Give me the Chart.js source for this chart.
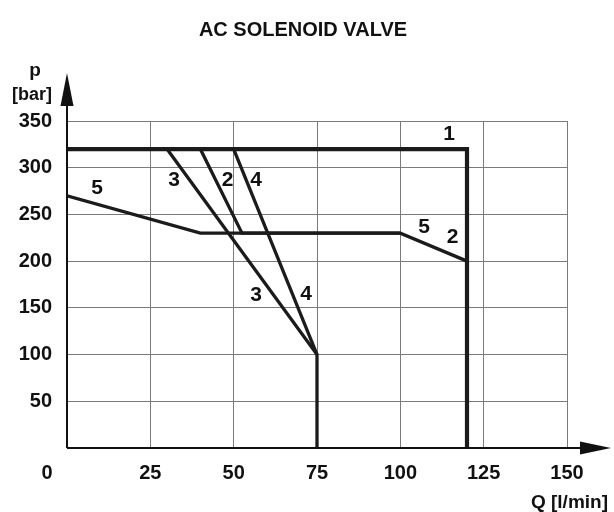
<!DOCTYPE html>
<html>
<head>
<meta charset="utf-8">
<script src="https://cdn.jsdelivr.net/npm/chart.js@4.4.1/dist/chart.umd.min.js"></script>
<style>
html,body{margin:0;padding:0;background:#fff;}
#wrap{width:614px;height:512px;position:relative;}
</style>
</head>
<body>
<div id="wrap"><canvas id="c" width="614" height="512"></canvas></div>
<script>
const xTicks = [0, 25, 50, 75, 100, 125, 150];
const yTicks = [0, 50, 100, 150, 200, 250, 300, 350];
const curve1 = [[0,320],[120,320],[120,0]];
const curve2 = [[40,320],[52.5,230],[100,230],[120,200]];
const curve3 = [[30,320],[75,100],[75,0]];
const curve4 = [[50,320],[75,100]];
const curve5 = [[0,270],[40,230],[100,230]];
const curveLabels = [
  ['1',114.6,335.4],['2',115.7,225.5],['5',107.1,236.8],
  ['3',32.1,286.6],['2',48.2,286.6],['4',56.7,286.6],['5',9,278.6],
  ['3',56.7,164],['4',71.7,165]
];
const title = 'AC SOLENOID VALVE';
const xTitle = 'Q [l/min]';
const yTitle = ['p','[bar]'];

const FONT = '"Liberation Sans", Arial, sans-serif';
const toPts = a => a.map(p => ({x:p[0], y:p[1]}));
const ds = (arr, w) => ({data: toPts(arr), showLine:true, borderColor:'#1b1b1b', borderWidth:w, pointRadius:0, fill:false, tension:0, borderJoinStyle:'miter', borderCapStyle:'butt'});

const deco = {
  id:'deco',
  afterDraw(chart){
    const ctx = chart.ctx, xs = chart.scales.x, ys = chart.scales.y;
    const x0 = xs.getPixelForValue(0), y0 = ys.getPixelForValue(0);
    ctx.save();
    ctx.fillStyle = '#111'; ctx.strokeStyle = '#111';
    // axes with arrows
    ctx.lineWidth = 2;
    ctx.beginPath(); ctx.moveTo(x0, y0); ctx.lineTo(582, y0); ctx.stroke();
    ctx.beginPath(); ctx.moveTo(x0, y0); ctx.lineTo(x0, 104); ctx.stroke();
    ctx.beginPath(); ctx.moveTo(580, y0-6.5); ctx.lineTo(611, y0); ctx.lineTo(580, y0+6.5); ctx.closePath(); ctx.fill();
    ctx.beginPath(); ctx.moveTo(x0-6.5, 106); ctx.lineTo(x0, 73); ctx.lineTo(x0+6.5, 106); ctx.closePath(); ctx.fill();
    // curve labels
    ctx.font = 'bold 21px ' + FONT;
    ctx.textAlign = 'center'; ctx.textBaseline = 'middle';
    curveLabels.forEach(l => ctx.fillText(l[0], xs.getPixelForValue(l[1]), ys.getPixelForValue(l[2])));
    // origin label
    ctx.font = 'bold 20px ' + FONT;
    ctx.fillText('0', 47, 473);
    // titles
    ctx.font = 'bold 20px ' + FONT;
    ctx.fillText(title, 303, 30);
    ctx.font = 'bold 19px ' + FONT;
    ctx.textAlign = 'right';
    ctx.fillText(xTitle, 608, 503);
    ctx.textAlign = 'center';
    ctx.fillText(yTitle[0], 35, 71);
    ctx.font = 'bold 18px ' + FONT;
    ctx.fillText(yTitle[1], 32, 95);
    ctx.restore();
  }
};

new Chart(document.getElementById('c'), {
  type:'scatter',
  data:{datasets:[ds(curve1,4.2), ds(curve2,3.3), ds(curve3,3.3), ds(curve4,3.3), ds(curve5,3.3)]},
  options:{
    responsive:false, animation:false,
    layout:{padding:{left:0, top:121, right:47, bottom:24}},
    plugins:{legend:{display:false}, tooltip:{enabled:false}, title:{display:false}},
    scales:{
      x:{type:'linear', min:0, max:150,
        afterFit(s){ s.height = 40; },
        afterBuildTicks(s){ s.ticks = xTicks.map(v => ({value:v})); },
        ticks:{padding:13, color:'#111', font:{family:FONT, size:20, weight:'bold'},
          callback:v => v === 0 ? '' : String(v)},
        grid:{color:'#7a7a7a', lineWidth:1, drawTicks:false},
        border:{display:false}
      },
      y:{type:'linear', min:0, max:350,
        afterFit(s){ s.width = 67; },
        afterBuildTicks(s){ s.ticks = yTicks.map(v => ({value:v})); },
        ticks:{padding:15, color:'#111', font:{family:FONT, size:20, weight:'bold'},
          callback:v => v === 0 ? '' : String(v)},
        grid:{color:'#7a7a7a', lineWidth:1, drawTicks:false},
        border:{display:false}
      }
    }
  },
  plugins:[deco]
});
</script>
</body>
</html>
